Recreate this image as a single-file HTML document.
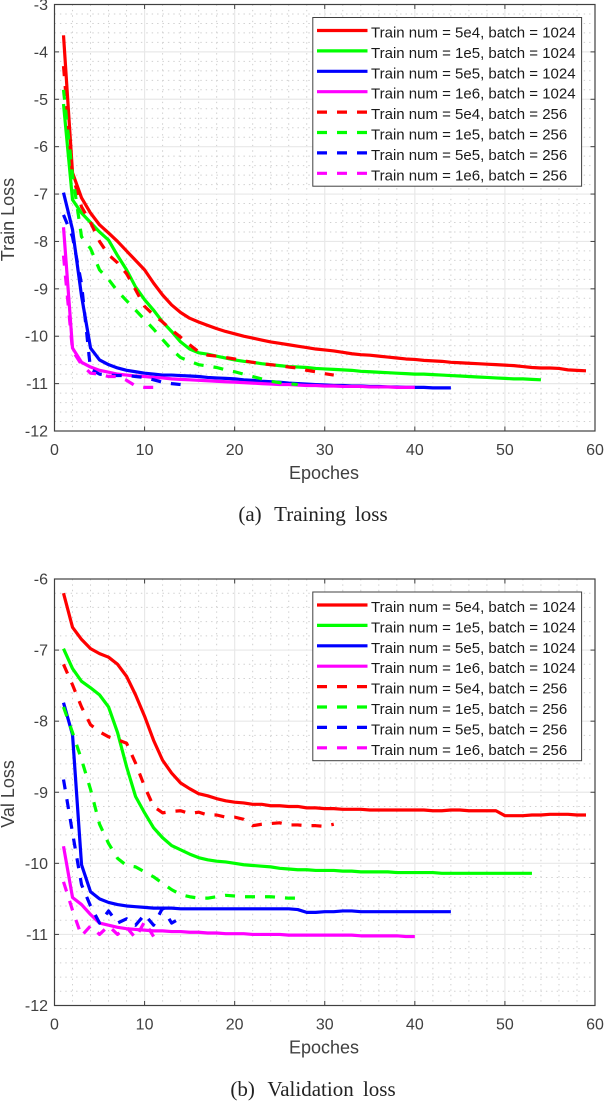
<!DOCTYPE html>
<html lang="en">
<head>
<meta charset="utf-8">
<title>Training and validation loss</title>
<style>
html,body{margin:0;padding:0;background:#fff;}
svg{display:block;}
text{font-family:"Liberation Sans",Arial,sans-serif;}
.tick{font-size:16px;fill:#404040;}
.axt{font-size:18px;fill:#404040;}
.leg{font-size:15px;fill:#1a1a1a;}
.cap{font-family:"Liberation Serif","Times New Roman",serif;font-size:21px;fill:#222;word-spacing:4px;}
</style>
</head>
<body>
<svg id="fig" xmlns="http://www.w3.org/2000/svg" width="606" height="1102" viewBox="0 0 606 1102"></svg>
<script>
const xTickLabels = [0, 10, 20, 30, 40, 50, 60];
const trainYTickLabels = [-3, -4, -5, -6, -7, -8, -9, -10, -11, -12];
const valYTickLabels = [-6, -7, -8, -9, -10, -11, -12];
const seriesNames = [
  "Train num = 5e4, batch = 1024",
  "Train num = 1e5, batch = 1024",
  "Train num = 5e5, batch = 1024",
  "Train num = 1e6, batch = 1024",
  "Train num = 5e4, batch = 256",
  "Train num = 1e5, batch = 256",
  "Train num = 5e5, batch = 256",
  "Train num = 1e6, batch = 256"
];
const seriesColors = ["#ff0000", "#00ff00", "#0000ff", "#ff00ff", "#ff0000", "#00ff00", "#0000ff", "#ff00ff"];

// Train loss per epoch, starting at epoch 1
const trainRed1024 = [-3.65,-6.55,-7.08,-7.4,-7.65,-7.82,-8.0,-8.2,-8.4,-8.6,-8.88,-9.13,-9.34,-9.5,-9.62,-9.7,-9.77,-9.84,-9.9,-9.95,-10.0,-10.04,-10.08,-10.12,-10.15,-10.18,-10.21,-10.24,-10.27,-10.29,-10.31,-10.34,-10.37,-10.39,-10.4,-10.42,-10.44,-10.46,-10.48,-10.49,-10.51,-10.52,-10.53,-10.55,-10.56,-10.57,-10.58,-10.59,-10.6,-10.61,-10.62,-10.64,-10.66,-10.67,-10.67,-10.68,-10.71,-10.72,-10.73];
const trainGreen1024 = [-5.1,-7.12,-7.4,-7.6,-7.8,-7.97,-8.3,-8.6,-8.96,-9.23,-9.45,-9.7,-9.9,-10.12,-10.27,-10.35,-10.38,-10.42,-10.46,-10.5,-10.53,-10.55,-10.58,-10.6,-10.62,-10.64,-10.65,-10.66,-10.68,-10.69,-10.7,-10.71,-10.72,-10.74,-10.75,-10.76,-10.77,-10.78,-10.79,-10.8,-10.8,-10.81,-10.82,-10.83,-10.84,-10.85,-10.86,-10.87,-10.88,-10.89,-10.9,-10.9,-10.91,-10.92];
const trainBlue1024 = [-6.97,-7.75,-9.15,-10.25,-10.5,-10.6,-10.67,-10.72,-10.75,-10.78,-10.8,-10.82,-10.82,-10.83,-10.84,-10.85,-10.87,-10.88,-10.89,-10.9,-10.92,-10.93,-10.95,-10.96,-10.97,-10.99,-11.0,-11.01,-11.02,-11.03,-11.04,-11.04,-11.05,-11.05,-11.06,-11.06,-11.07,-11.07,-11.08,-11.08,-11.08,-11.09,-11.09,-11.09];
const trainMagenta1024 = [-7.7,-10.25,-10.55,-10.65,-10.72,-10.76,-10.8,-10.82,-10.84,-10.85,-10.87,-10.88,-10.9,-10.91,-10.92,-10.93,-10.94,-10.95,-10.96,-10.97,-10.98,-10.99,-11.0,-11.01,-11.02,-11.02,-11.03,-11.04,-11.04,-11.05,-11.05,-11.06,-11.06,-11.06,-11.07,-11.07,-11.07,-11.08,-11.08,-11.08];
const trainRed256 = [-4.3,-6.6,-7.27,-7.6,-8.0,-8.28,-8.45,-8.68,-9.02,-9.37,-9.55,-9.7,-9.87,-10.02,-10.18,-10.33,-10.4,-10.42,-10.45,-10.48,-10.52,-10.55,-10.58,-10.6,-10.62,-10.65,-10.67,-10.72,-10.75,-10.79,-10.82];
const trainGreen256 = [-4.8,-6.6,-7.9,-8.15,-8.6,-8.8,-9.05,-9.25,-9.45,-9.65,-9.85,-10.07,-10.28,-10.45,-10.53,-10.6,-10.63,-10.66,-10.71,-10.75,-10.8,-10.85,-10.9,-10.95,-10.98,-11.0,-11.02];
const trainBlue256 = [-7.44,-7.9,-8.9,-10.7,-10.8,-10.82,-10.83,-10.83,-10.85,-10.87,-10.92,-10.97,-11.0,-11.02];
const trainMagenta256 = [-8.3,-10.3,-10.6,-10.78,-10.8,-10.85,-10.85,-10.93,-11.05,-11.08,-11.08,-11.07];

// Validation loss per epoch, starting at epoch 1
const valRed1024 = [-6.2,-6.68,-6.85,-6.98,-7.05,-7.1,-7.2,-7.37,-7.63,-7.93,-8.27,-8.55,-8.73,-8.87,-8.95,-9.02,-9.05,-9.09,-9.12,-9.14,-9.15,-9.17,-9.17,-9.19,-9.19,-9.2,-9.2,-9.22,-9.22,-9.23,-9.23,-9.24,-9.24,-9.24,-9.25,-9.25,-9.25,-9.25,-9.25,-9.25,-9.25,-9.26,-9.26,-9.25,-9.25,-9.26,-9.26,-9.26,-9.26,-9.33,-9.33,-9.33,-9.32,-9.32,-9.31,-9.31,-9.31,-9.32,-9.32];
const valGreen1024 = [-6.98,-7.26,-7.44,-7.53,-7.63,-7.8,-8.16,-8.64,-9.06,-9.29,-9.5,-9.64,-9.75,-9.81,-9.87,-9.92,-9.95,-9.97,-9.98,-10.0,-10.02,-10.03,-10.04,-10.05,-10.07,-10.08,-10.09,-10.09,-10.1,-10.1,-10.1,-10.11,-10.11,-10.12,-10.12,-10.12,-10.12,-10.13,-10.13,-10.13,-10.13,-10.13,-10.14,-10.14,-10.14,-10.14,-10.14,-10.14,-10.14,-10.14,-10.14,-10.14,-10.14];
const valBlue1024 = [-7.74,-8.19,-10.02,-10.4,-10.5,-10.55,-10.58,-10.6,-10.61,-10.62,-10.63,-10.63,-10.63,-10.64,-10.64,-10.64,-10.64,-10.64,-10.64,-10.64,-10.64,-10.64,-10.64,-10.64,-10.64,-10.64,-10.65,-10.69,-10.69,-10.68,-10.68,-10.67,-10.67,-10.68,-10.68,-10.68,-10.68,-10.68,-10.68,-10.68,-10.68,-10.68,-10.68,-10.68];
const valMagenta1024 = [-9.76,-10.48,-10.58,-10.72,-10.84,-10.87,-10.9,-10.92,-10.93,-10.94,-10.95,-10.95,-10.96,-10.96,-10.97,-10.97,-10.98,-10.98,-10.99,-10.99,-10.99,-11.0,-11.0,-11.0,-11.0,-11.01,-11.01,-11.01,-11.01,-11.01,-11.01,-11.01,-11.01,-11.02,-11.02,-11.02,-11.02,-11.02,-11.03,-11.03];
const valRed256 = [-7.2,-7.49,-7.8,-8.05,-8.15,-8.22,-8.26,-8.31,-8.59,-8.92,-9.2,-9.29,-9.27,-9.26,-9.3,-9.28,-9.32,-9.32,-9.35,-9.35,-9.38,-9.47,-9.45,-9.44,-9.43,-9.46,-9.46,-9.47,-9.47,-9.48,-9.45];
const valGreen256 = [-7.8,-8.16,-8.54,-8.96,-9.45,-9.72,-9.93,-10.03,-10.05,-10.12,-10.19,-10.28,-10.37,-10.44,-10.47,-10.49,-10.49,-10.47,-10.45,-10.46,-10.47,-10.47,-10.47,-10.47,-10.48,-10.49,-10.49];
const valBlue256 = [-8.82,-9.57,-10.3,-10.6,-10.84,-10.67,-10.84,-10.78,-10.87,-10.72,-10.87,-10.63,-10.84,-10.77];
const valMagenta256 = [-10.26,-10.66,-11.02,-10.88,-11.0,-10.88,-11.0,-10.9,-11.05,-10.82,-11.03];

const trainSeries = [trainRed1024, trainGreen1024, trainBlue1024, trainMagenta1024, trainRed256, trainGreen256, trainBlue256, trainMagenta256];
const valSeries = [valRed1024, valGreen1024, valBlue1024, valMagenta1024, valRed256, valGreen256, valBlue256, valMagenta256];

const NS = "http://www.w3.org/2000/svg";
const fig = document.getElementById("fig");

function make(parent, tag, attrs, txt) {
  const el = document.createElementNS(NS, tag);
  for (const k in attrs) el.setAttribute(k, attrs[k]);
  if (txt !== undefined) el.textContent = txt;
  parent.appendChild(el);
  return el;
}

function drawChart(prefix, top, yLabels, series, yTitle, captionTag, captionText, captionY) {
  const left = 54.5, right = 595, height = 426.5, bottom = top + height;
  const xMin = 0, xMax = xTickLabels[xTickLabels.length - 1];
  const yMax = yLabels[0], yMin = yLabels[yLabels.length - 1];
  const sx = v => left + (v - xMin) / (xMax - xMin) * (right - left);
  const sy = v => top + (yMax - v) / (yMax - yMin) * height;

  const g = make(fig, "g", {});
  
  

  const grid = make(g, "g", {});
  
  
  for (let v = xMin; v <= xMax; v += 2) {
    if (v % 10 === 0) continue;
    make(grid, "line", {x1: sx(v), x2: sx(v), y1: top, y2: bottom, stroke: "#cfcfcf", "stroke-width": 1, "stroke-dasharray": "1.4 4"});
  }
  for (let i = 0; i < (yMax - yMin) * 5; i++) {
    if (i % 5 === 0) continue;
    const v = yMax - i * 0.2;
    make(grid, "line", {x1: left, x2: right, y1: sy(v), y2: sy(v), stroke: "#cfcfcf", "stroke-width": 1, "stroke-dasharray": "1.4 4"});
  }
  xTickLabels.forEach(v => {
    if (v !== xMin && v !== xMax) make(grid, "line", {x1: sx(v), x2: sx(v), y1: top, y2: bottom, stroke: "#e8e8e8", "stroke-width": 1.2});
  });
  yLabels.forEach(v => {
    if (v !== yMax && v !== yMin) make(grid, "line", {x1: left, x2: right, y1: sy(v), y2: sy(v), stroke: "#e8e8e8", "stroke-width": 1.2});
  });

  const axes = make(g, "g", {});
  
  
  xTickLabels.forEach(v => {
    make(axes, "line", {x1: sx(v), x2: sx(v), y1: bottom, y2: bottom - 4.5, stroke: "#404040", "stroke-width": 1});
    make(axes, "line", {x1: sx(v), x2: sx(v), y1: top, y2: top + 4.5, stroke: "#404040", "stroke-width": 1});
    const t = make(axes, "text", {x: sx(v), y: bottom + 24, "text-anchor": "middle", class: "tick"}, String(v));
    
    
  });
  yLabels.forEach(v => {
    make(axes, "line", {x1: left, x2: left + 4.5, y1: sy(v), y2: sy(v), stroke: "#404040", "stroke-width": 1});
    make(axes, "line", {x1: right, x2: right - 4.5, y1: sy(v), y2: sy(v), stroke: "#404040", "stroke-width": 1});
    const t = make(axes, "text", {x: 48, y: sy(v) + 5.5, "text-anchor": "end", class: "tick"}, String(v));
    
    
  });

  series.forEach((vals, i) => {
    const pts = vals.map((v, k) => sx(k + 1).toFixed(2) + "," + sy(v).toFixed(2)).join(" ");
    const attrs = {points: pts, fill: "none", stroke: seriesColors[i], "stroke-width": 3.2, "stroke-linejoin": "round"};
    if (i >= 4) attrs["stroke-dasharray"] = "10 10";
    const line = make(g, "polyline", attrs);
    
    
  });

  const box = make(g, "rect", {x: left, y: top, width: right - left, height: height, fill: "none", stroke: "#404040", "stroke-width": 1.2});
  
  

  const xt = make(g, "text", {x: 324, y: bottom + 48, "text-anchor": "middle", class: "axt"}, "Epoches");
  
  
  const yc = top + 215;
  const yt = make(g, "text", {x: 14, y: yc, "text-anchor": "middle", class: "axt", transform: "rotate(-90 14 " + yc + ")"}, yTitle);
  
  

  const lg = make(g, "g", {});
  
  
  make(lg, "rect", {x: 312.8, y: top + 13, width: 268.8, height: 168.7, fill: "#fff", stroke: "#404040", "stroke-width": 1});
  seriesNames.forEach((name, i) => {
    const rowY = top + 26 + i * 20.4;
    const entry = make(lg, "g", {});
    
    
    const a = {x1: 317, x2: 367.5, y1: rowY, y2: rowY, stroke: seriesColors[i], "stroke-width": 3.2};
    if (i >= 4) a["stroke-dasharray"] = "10 10";
    make(entry, "line", a);
    make(entry, "text", {x: 371, y: rowY + 7, class: "leg"}, name);
  });

  const c = make(g, "text", {x: 313, y: captionY, "text-anchor": "middle", class: "cap"});
  
  
  make(c, "tspan", {}, captionTag);
  make(c, "tspan", {dx: 12.5}, captionText);
}

drawChart("train", 4.5, trainYTickLabels, trainSeries, "Train Loss", "(a)", "Training loss", 521);
drawChart("val", 579, valYTickLabels, valSeries, "Val Loss", "(b)", "Validation loss", 1096);
</script>
</body>
</html>
